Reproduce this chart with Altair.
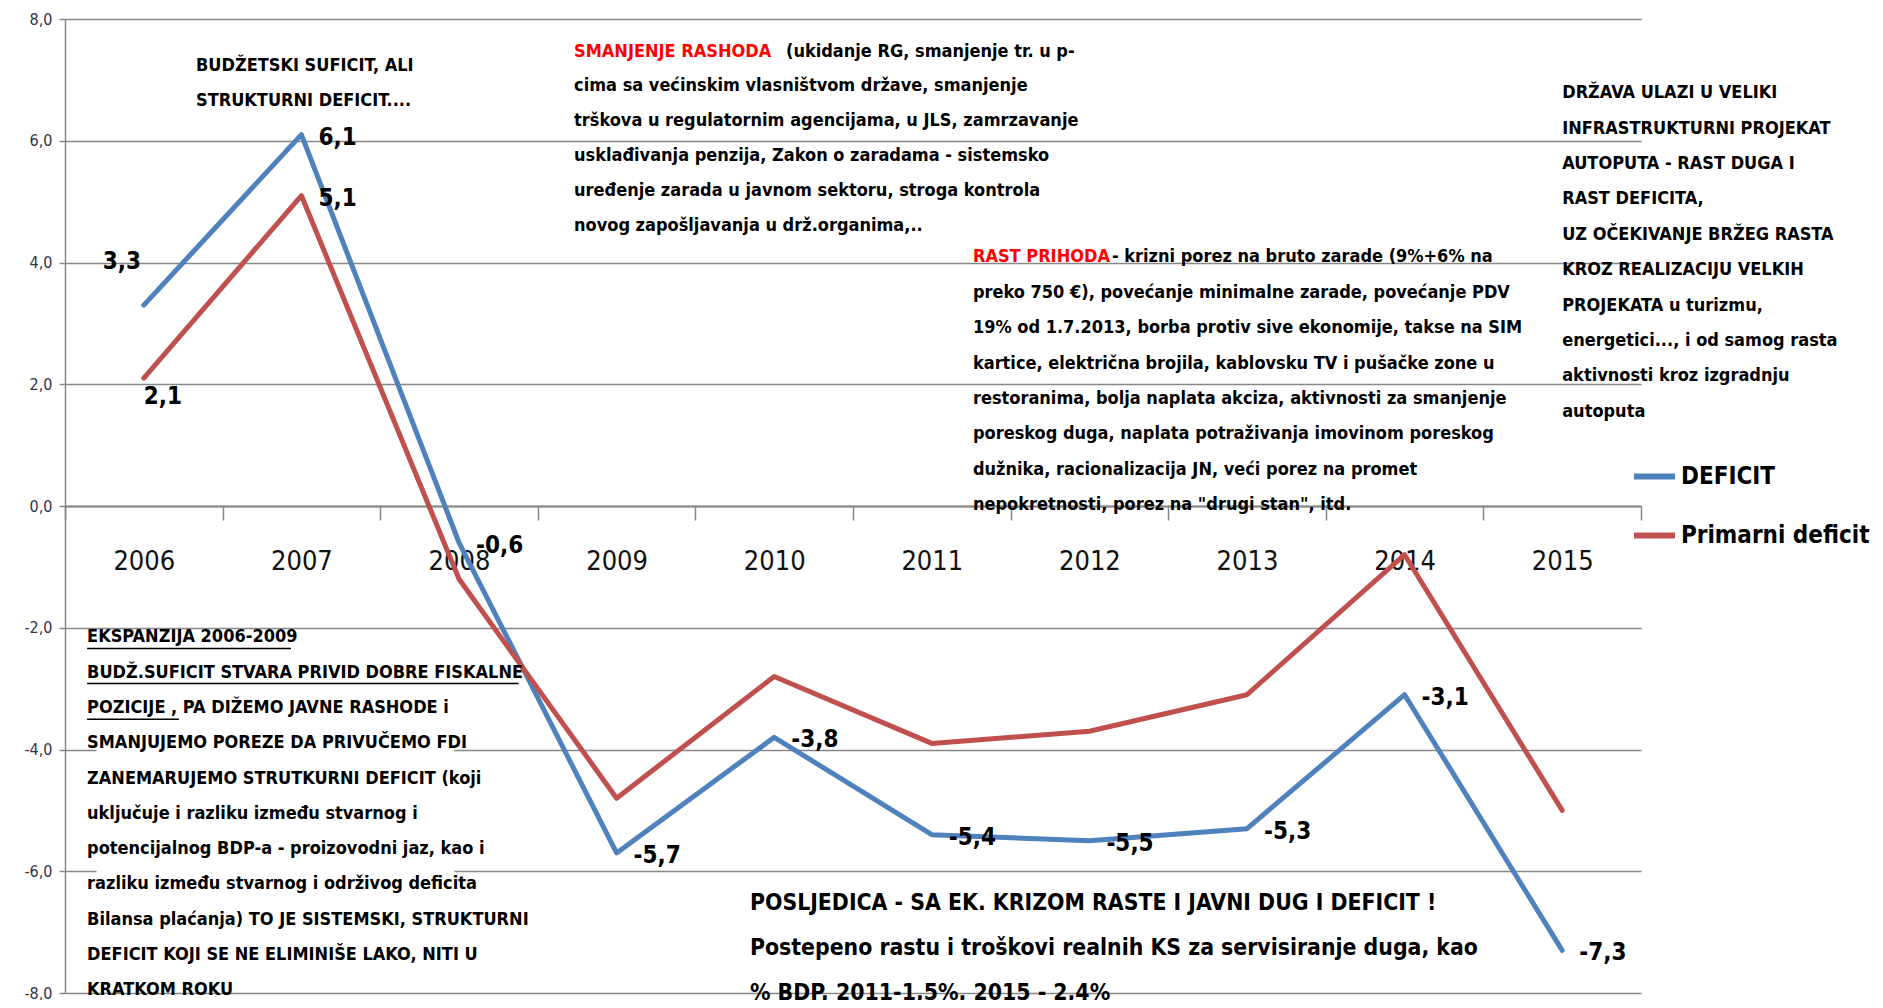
import altair as alt
import pandas as pd

years = [2006, 2007, 2008, 2009, 2010, 2011, 2012, 2013, 2014, 2015]
deficit = [3.3, 6.1, -0.6, -5.7, -3.8, -5.4, -5.5, -5.3, -3.1, -7.3]
primarni = [2.1, 5.1, -1.2, -4.8, -2.8, -3.9, -3.7, -3.1, -0.8, -5.0]
series_names = ["DEFICIT", "Primarni deficit"]
series_colors = ["#4F81BD", "#C0504D"]
y_ticks = [-8, -6, -4, -2, 0, 2, 4, 6, 8]
x_edges = [2005.5, 2006.5, 2007.5, 2008.5, 2009.5, 2010.5, 2011.5, 2012.5, 2013.5, 2014.5, 2015.5]

txt_budzetski = ["BUDŽETSKI SUFICIT, ALI", "STRUKTURNI DEFICIT...."]
txt_smanj_red = "SMANJENJE RASHODA"
txt_smanj_first = "(ukidanje RG, smanjenje tr. u p-"
txt_smanj_rest = [
    "cima sa većinskim vlasništvom države, smanjenje",
    "trškova u regulatornim agencijama, u JLS, zamrzavanje",
    "usklađivanja penzija, Zakon o zaradama - sistemsko",
    "uređenje zarada u javnom sektoru, stroga kontrola",
    "novog zapošljavanja u drž.organima,..",
]
txt_rast_red = "RAST PRIHODA"
txt_rast_first = "- krizni porez na bruto zarade (9%+6% na"
txt_rast_rest = [
    "preko 750 €), povećanje minimalne zarade, povećanje PDV",
    "19% od 1.7.2013, borba protiv sive ekonomije, takse na SIM",
    "kartice, električna brojila, kablovsku TV i pušačke zone u",
    "restoranima, bolja naplata akciza, aktivnosti za smanjenje",
    "poreskog duga, naplata potraživanja imovinom poreskog",
    "dužnika, racionalizacija JN, veći porez na promet",
    "nepokretnosti, porez na \"drugi stan\", itd.",
]
txt_drzava = [
    "DRŽAVA ULAZI U VELIKI",
    "INFRASTRUKTURNI PROJEKAT",
    "AUTOPUTA - RAST DUGA I",
    "RAST DEFICITA,",
    "UZ OČEKIVANJE BRŽEG RASTA",
    "KROZ REALIZACIJU VELKIH",
    "PROJEKATA  u turizmu,",
    "energetici..., i od samog rasta",
    "aktivnosti kroz izgradnju",
    "autoputa",
]
txt_ekspanzija = [
    "EKSPANZIJA 2006-2009",
    "BUDŽ.SUFICIT STVARA PRIVID DOBRE FISKALNE",
    "POZICIJE , PA DIŽEMO JAVNE RASHODE  i",
    "SMANJUJEMO POREZE DA PRIVUČEMO FDI",
    "ZANEMARUJEMO STRUTKURNI DEFICIT (koji",
    "uključuje i razliku između stvarnog i",
    "potencijalnog BDP-a - proizovodni jaz, kao i",
    "razliku između stvarnog i održivog deficita",
    "Bilansa plaćanja) TO JE SISTEMSKI, STRUKTURNI",
    "DEFICIT KOJI SE NE ELIMINIŠE LAKO, NITI U",
    "KRATKOM ROKU",
]
txt_posljedica = [
    "POSLJEDICA - SA EK. KRIZOM RASTE I JAVNI DUG I DEFICIT !",
    "Postepeno rastu i troškovi realnih KS za servisiranje duga, kao",
    "% BDP, 2011-1,5%, 2015 - 2,4%",
]

df = pd.DataFrame({
    "year": years + years,
    "value": deficit + primarni,
    "series": [series_names[0]] * len(years) + [series_names[1]] * len(years),
})

FONT = "DejaVu Sans Condensed, DejaVu Sans, sans-serif"
GRID = "#888888"

x_scale = alt.Scale(domain=[2005.5, 2015.5], nice=False, zero=False)
y_scale = alt.Scale(domain=[-8, 8], nice=False, zero=False)

x_axis = alt.Axis(
    values=x_edges,
    labelExpr="datum.value < 2015 ? format(datum.value + 0.5, 'd') : ''",
    labelOffset=78.8, labelFlush=False, labelOverlap=False, labelBound=False,
    tickSize=14, tickColor=GRID, tickWidth=1.5,
    domainColor=GRID, domainWidth=2, grid=False,
    labelFont=FONT, labelFontSize=27, labelColor="#111111", labelPadding=28,
    offset=-487, title=None,
)
y_axis = alt.Axis(
    values=y_ticks, labelExpr="datum.value + ',0'",
    grid=True, gridColor=GRID, gridWidth=1.5,
    domainColor=GRID, domainWidth=1.5, tickColor=GRID, tickSize=6, tickWidth=1.5,
    labelFont=FONT, labelFontSize=16, labelColor="#333344", labelPadding=7,
    title=None,
)


def XD(v):
    return alt.X(datum=v, type="quantitative", scale=x_scale, axis=x_axis)


def YD(v):
    return alt.Y(datum=v, type="quantitative", scale=y_scale, axis=y_axis)


XF = alt.X("year:Q", scale=x_scale, axis=x_axis)
YF = alt.Y("value:Q", scale=y_scale, axis=y_axis)

# white fill behind the left text box (covers grid lines like in the original)
box = alt.Chart().mark_rect(color="white").encode(
    x=XD(2005.70), x2=alt.X2(datum=2007.97),
    y=YD(-2.2), y2=alt.Y2(datum=-7.8),
)

lines = alt.Chart(df).mark_line(strokeWidth=5, strokeJoin="round", strokeCap="round").encode(
    x=XF, y=YF,
    color=alt.Color(
        "series:N",
        scale=alt.Scale(domain=series_names, range=series_colors),
        legend=alt.Legend(
            orient="none", legendX=1566, legendY=434, title=None,
            symbolType="stroke", symbolSize=1681, symbolStrokeWidth=6,
            labelFont=FONT, labelFontSize=24, labelFontWeight="bold",
            labelColor="#000000", labelLimit=400, labelOffset=3,
            rowPadding=23, padding=0,
        ),
    ),
)

lbl_expr = "(datum.value < 0 ? '-' : '') + replace(format(abs(datum.value), '.1f'), '.', ',')"
label_base = alt.Chart(df).transform_calculate(lbl=lbl_expr)

LBL = dict(font=FONT, fontSize=24, fontWeight="bold", color="#000000", baseline="middle")
labels_main = label_base.transform_filter(
    "(datum.series == 'DEFICIT' && datum.year != 2006) || (datum.series == 'Primarni deficit' && datum.year == 2007)"
).mark_text(align="left", dx=17, dy=3, **LBL).encode(x=XF, y=YF, text="lbl:N")
labels_33 = label_base.transform_filter(
    "datum.series == 'DEFICIT' && datum.year == 2006"
).mark_text(align="center", dx=-22, dy=-43, **LBL).encode(x=XF, y=YF, text="lbl:N")
labels_21 = label_base.transform_filter(
    "datum.series == 'Primarni deficit' && datum.year == 2006"
).mark_text(align="left", dx=0, dy=19, **LBL).encode(x=XF, y=YF, text="lbl:N")


def note(text, x, y, size=18, color="#000000", lh=35.3):
    return alt.Chart().mark_text(
        text=text, align="left", baseline="top", font=FONT, fontSize=size,
        fontWeight="bold", color=color, lineHeight=lh,
    ).encode(x=XD(x), y=YD(y))


notes = [
    note(txt_budzetski, 2006.331, 7.38, lh=35.5),
    note(txt_smanj_red, 2008.73, 7.61, color="#FF0000"),
    note(txt_smanj_first, 2010.075, 7.61),
    note(txt_smanj_rest, 2008.73, 7.04, lh=34.8),
    note(txt_rast_red, 2011.261, 4.24, color="#FF0000"),
    note(txt_rast_first, 2012.143, 4.24),
    note(txt_rast_rest, 2011.261, 3.646, lh=35.3),
    note(txt_drzava, 2015.0, 6.928, lh=35.4),
    note(txt_ekspanzija, 2005.64, -2.01, lh=35.3),
    note(txt_posljedica, 2009.846, -6.34, size=22.8, lh=45),
]

# underlines in the left box
ul = []
for x1, x2, yy in [(2005.64, 2006.934, -2.34), (2005.64, 2008.378, -2.915), (2005.64, 2006.223, -3.505)]:
    ul.append(alt.Chart().mark_rule(color="#000000", strokeWidth=1.5).encode(
        x=XD(x1), x2=alt.X2(datum=x2), y=YD(yy)))

chart = alt.layer(box, lines, labels_main, labels_33, labels_21, *notes, *ul).properties(
    width=1576, height=974,
    autosize=alt.AutoSizeParams(type="none"),
    padding={"left": 57, "top": 11, "right": 234, "bottom": 7},
    background="white",
).configure_view(stroke=None)

chart.save("out.html", embed_options={"renderer": "svg", "actions": False})
